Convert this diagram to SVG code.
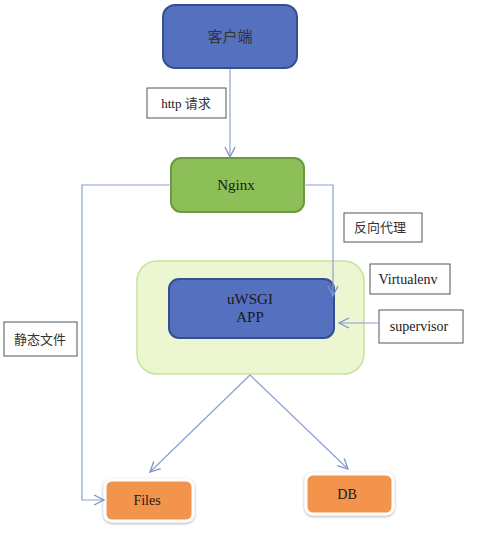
<svg xmlns="http://www.w3.org/2000/svg" width="500" height="535" viewBox="0 0 500 535">
<style>
.en{font-family:"Liberation Serif","Times New Roman",serif;fill:#1a1a1a}
.zh{font-family:"Noto Sans CJK SC","Noto Sans",sans-serif;fill:#333}
.lbl{fill:#fff;stroke:#555;stroke-width:1}
.con{fill:none;stroke:#8c9fcf;stroke-width:1.2}
.blue{fill:#5470bf;stroke:#34508f;stroke-width:2}
.orange{fill:#f2944c;stroke:#fff;stroke-width:3}
</style>
<defs>
<marker id="arr" viewBox="0 0 12 12" refX="11" refY="6" markerWidth="12" markerHeight="12" markerUnits="userSpaceOnUse" orient="auto">
<path d="M1,1 L11,6 L1,11" fill="none" stroke="#7f93c8" stroke-width="1.3"/>
</marker>
<filter id="sh" x="-20%" y="-20%" width="140%" height="150%">
<feDropShadow dx="0" dy="1" stdDeviation="1.6" flood-color="#000" flood-opacity="0.35"/>
</filter>
</defs>
<rect width="500" height="535" fill="#fff"/>

<g id="client">
<rect class="blue" x="163" y="5" width="134" height="63" rx="12"/>
<text class="zh" x="230" y="42" font-size="15" text-anchor="middle">客户端</text>
</g>

<g id="label-http">
<rect class="lbl" x="147" y="88" width="79" height="30"/>
<text x="186" y="108" font-size="13" text-anchor="middle"><tspan class="en">http </tspan><tspan class="zh">请求</tspan></text>
</g>

<g id="nginx">
<rect x="171" y="158" width="133" height="54" rx="10" fill="#8dbf58" stroke="#6b9a3c" stroke-width="2"/>
<text class="en" x="236" y="190" font-size="15" text-anchor="middle">Nginx</text>
</g>

<g id="label-proxy">
<rect class="lbl" x="344" y="213" width="78" height="29"/>
<text class="zh" x="380" y="232" font-size="13" text-anchor="middle">反向代理</text>
</g>

<g id="venv-container">
<rect x="137" y="261" width="227" height="113" rx="20" fill="#ecf7d2" stroke="#c6e29b" stroke-width="1.5"/>
</g>

<g id="uwsgi">
<rect class="blue" x="169" y="279" width="165" height="59" rx="10"/>
<text class="en" x="250" y="304" font-size="15" text-anchor="middle">uWSGI</text>
<text class="en" x="250" y="322" font-size="15" text-anchor="middle">APP</text>
</g>

<g id="label-virtualenv">
<rect class="lbl" x="370" y="264" width="80" height="30"/>
<text class="en" x="408" y="284" font-size="14" text-anchor="middle">Virtualenv</text>
</g>

<g id="label-supervisor">
<rect class="lbl" x="379" y="310" width="84" height="33"/>
<text class="en" x="419" y="331" font-size="14" text-anchor="middle">supervisor</text>
</g>

<g id="label-static">
<rect class="lbl" x="4" y="322" width="73" height="34"/>
<text class="zh" x="40" y="344" font-size="13" text-anchor="middle">静态文件</text>
</g>

<g id="files">
<rect class="orange" x="105" y="480" width="88" height="41" rx="7" filter="url(#sh)"/>
<text class="en" x="147" y="505" font-size="14" text-anchor="middle">Files</text>
</g>

<g id="db">
<rect class="orange" x="306" y="474" width="87" height="40" rx="7" filter="url(#sh)"/>
<text class="en" x="347" y="499" font-size="14" text-anchor="middle">DB</text>
</g>

<g id="connectors">
<line class="con" x1="230" y1="69" x2="230" y2="157" marker-end="url(#arr)"/>
<polyline class="con" points="171,185 82,185 82,500 104,500" marker-end="url(#arr)"/>
<polyline class="con" points="304,185 333,185 333,296" marker-end="url(#arr)"/>
<line class="con" x1="379" y1="323" x2="339" y2="323" marker-end="url(#arr)"/>
<line class="con" x1="250" y1="375" x2="150" y2="472" marker-end="url(#arr)"/>
<line class="con" x1="250" y1="375" x2="348" y2="469" marker-end="url(#arr)"/>
</g>
</svg>
